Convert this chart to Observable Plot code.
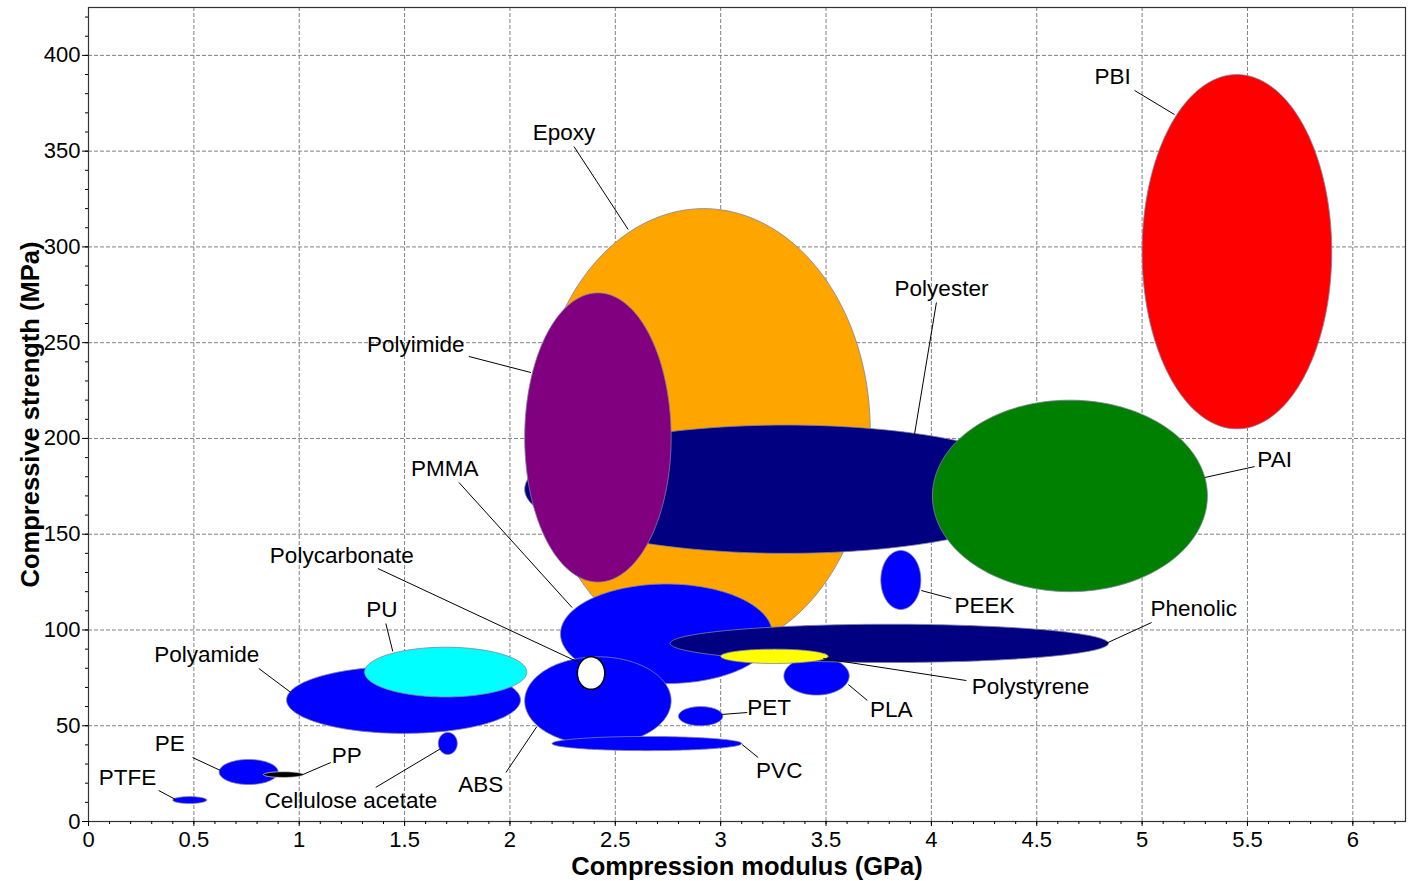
<!DOCTYPE html>
<html>
<head>
<meta charset="utf-8">
<script src="https://cdn.jsdelivr.net/npm/d3@7"></script>
<script src="https://cdn.jsdelivr.net/npm/@observablehq/plot@0.6"></script>
<style>
  html, body { margin: 0; padding: 0; background: #fff; }
  #chart svg { display: block; }
</style>
</head>
<body>
<div id="chart"></div>
<script>
// ---- Data: polymer property ranges (drawn in this order, bottom to top) ----
const materials   = ["PBI","Epoxy","Polyester","Polyimide","PAI","PMMA","PLA","Phenolic","Polystyrene","PEEK","Polyamide","PU","ABS","Polycarbonate","PET","PVC","Cellulose acetate","PE","PP","PTFE"];
const modulusMin  = [5.00, 2.13, 2.07, 2.07, 4.005, 2.24, 3.30, 2.76, 3.00, 3.76, 0.94, 1.31, 2.07, 2.32, 2.80, 2.20, 1.66, 0.62, 0.83, 0.40];
const modulusMax  = [5.90, 3.71, 4.55, 2.765, 5.31, 3.245, 3.61, 4.84, 3.51, 3.95, 2.05, 2.08, 2.765, 2.45, 3.01, 3.10, 1.75, 0.90, 1.02, 0.56];
const strengthMin = [205, 88, 140, 125, 120, 72, 66, 83, 82.5, 110.7, 46, 65, 40, 69, 50, 37, 35, 19.3, 23, 9.4];
const strengthMax = [390, 320, 207, 276, 220, 124, 86, 103, 90, 141.5, 81, 91, 86, 86, 60, 44.4, 46.5, 32.4, 26, 13];
const fillColors  = ["#ff0000","#ffa500","#000080","#800080","#008000","#0000ff","#0000ff","#000080","#ffff00","#0000ff","#0000ff","#00ffff","#0000ff","#ffffff","#0000ff","#0000ff","#0000ff","#0000ff","#000000","#0000ff"];

// ---- Annotation labels and leader lines (data units) ----
const labelText = ["PBI","Epoxy","Polyester","Polyimide","PAI","PMMA","Polycarbonate","PEEK","PU","Phenolic","Polyamide","Polystyrene","PLA","PET","PE","PP","PVC","ABS","Cellulose acetate","PTFE"];
const labelX = [4.860, 2.257, 4.048, 1.553, 5.629, 1.691, 1.202, 4.252, 1.392, 5.245, 0.561, 4.470, 3.810, 3.230, 0.385, 1.226, 3.278, 1.862, 1.245, 0.185];
const labelY = [389.0, 359.7, 278.3, 249.0, 189.0, 184.3, 138.9, 112.8, 110.7, 111.2, 87.2, 70.5, 58.5, 59.5, 40.7, 34.5, 26.6, 19.3, 11.0, 23.0];
const leadX1 = [4.964, 2.304, 4.024, 1.805, 5.534, 1.758, 1.373, 4.095, 1.411, 5.045, 0.808, 4.166, 3.696, 3.126, 0.494, 1.150, 3.178, 1.981, 1.363, 0.333];
const leadY1 = [381.7, 352.4, 271.0, 242.8, 185.3, 177.0, 132.1, 116.4, 103.4, 103.9, 79.9, 73.6, 63.2, 56.9, 33.4, 30.8, 33.4, 25.6, 17.8, 16.2];
const leadX2 = [5.154, 2.561, 3.919, 2.100, 5.297, 2.295, 2.328, 3.952, 1.444, 4.827, 0.960, 3.487, 3.606, 3.007, 0.627, 1.017, 3.102, 2.128, 1.672, 0.413];
const leadY2 = [369.1, 309.1, 201.5, 234.4, 179.6, 111.7, 83.0, 120.6, 88.8, 92.9, 67.4, 85.1, 71.5, 55.9, 26.6, 24.5, 40.2, 49.6, 38.1, 11.5];

// ---- Axis ticks ----
const xTicks = [0, 0.5, 1, 1.5, 2, 2.5, 3, 3.5, 4, 4.5, 5, 5.5, 6];
const yTicks = [0, 50, 100, 150, 200, 250, 300, 350, 400];
const xMinorTicks = d3.range(0, 63).map(i => i / 10);
const yMinorTicks = d3.range(0, 43).map(i => i * 10);

// ---- Build ellipse outlines from the ranges ----
function ellipsePoints(i) {
  const cx = (modulusMin[i] + modulusMax[i]) / 2, rx = (modulusMax[i] - modulusMin[i]) / 2;
  const cy = (strengthMin[i] + strengthMax[i]) / 2, ry = (strengthMax[i] - strengthMin[i]) / 2;
  return d3.range(0, 360, 2).map(a => {
    const t = a * Math.PI / 180;
    return {x: cx + rx * Math.cos(t), y: cy + ry * Math.sin(t)};
  });
}
const ellipseMarks = materials.map((m, i) => {
  const special = m === "Polycarbonate";
  return Plot.line(ellipsePoints(i), {
    x: "x", y: "y", curve: "linear-closed",
    fill: fillColors[i],
    stroke: special ? "#000" : (m === "PP" ? "#ddd" : "#8080a0"),
    strokeWidth: special ? 1.5 : 0.8
  });
});

const leaders = labelText.map((t, i) => ({x1: leadX1[i], y1: leadY1[i], x2: leadX2[i], y2: leadY2[i]}));
const labels = labelText.map((t, i) => ({text: t, x: labelX[i], y: labelY[i]}));

const chart = Plot.plot({
  width: 1408,
  height: 881,
  marginLeft: 88,
  marginRight: 3,
  marginTop: 7,
  marginBottom: 60,
  x: {domain: [0, 6.25]},
  y: {domain: [0, 425]},
  style: {fontFamily: "'Liberation Sans', Arial, sans-serif", fontSize: "22px", color: "#000", background: "#fff"},
  marks: [
    Plot.gridX(xTicks, {stroke: "#808080", strokeOpacity: 1, strokeDasharray: "4,2", strokeWidth: 1}),
    Plot.gridY(yTicks, {stroke: "#808080", strokeOpacity: 1, strokeDasharray: "4,2", strokeWidth: 1}),
    ...ellipseMarks,
    Plot.link(leaders, {x1: "x1", y1: "y1", x2: "x2", y2: "y2", stroke: "#000", strokeWidth: 1}),
    Plot.text(labels, {x: "x", y: "y", text: "text", fontSize: 22.5, fill: "#000"}),
    Plot.frame({stroke: "#333", strokeWidth: 1.2}),
    Plot.axisX(xMinorTicks, {tickSize: 3, tickFormat: () => "", label: null, stroke: "#000"}),
    Plot.axisX(xTicks, {tickSize: 5, tickPadding: 5, tickFormat: d => String(d), label: null, fontSize: 22, stroke: "#000"}),
    Plot.axisY(yMinorTicks, {tickSize: 3, tickFormat: () => "", label: null, stroke: "#000"}),
    Plot.axisY(yTicks, {tickSize: 6, tickPadding: 2, tickFormat: d => String(d), label: null, fontSize: 22, stroke: "#000"}),
    Plot.text(["Compression modulus (GPa)"], {frameAnchor: "bottom", dy: 45, lineAnchor: "middle", textAnchor: "middle", text: d => d, fontWeight: "bold", fontSize: 25.5, fill: "#000"}),
    Plot.text(["Compressive strength (MPa)"], {frameAnchor: "left", dx: -58, rotate: -90, lineAnchor: "middle", textAnchor: "middle", text: d => d, fontWeight: "bold", fontSize: 25.5, fill: "#000"})
  ]
});
document.getElementById("chart").appendChild(chart);
</script>
</body>
</html>
